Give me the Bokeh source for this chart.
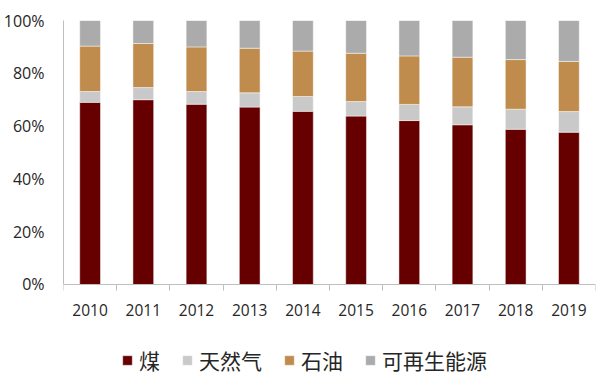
from bokeh.plotting import figure
from bokeh.models import ColumnDataSource, FixedTicker, PrintfTickFormatter, Legend, LegendItem
from bokeh.embed import file_html
from bokeh.resources import INLINE

years = ["2010", "2011", "2012", "2013", "2014", "2015", "2016", "2017", "2018", "2019"]
coal = [69.0, 70.0, 68.3, 67.2, 65.6, 63.8, 62.1, 60.5, 58.8, 57.7]
gas = [4.1, 4.6, 4.8, 5.4, 5.6, 5.5, 6.1, 6.8, 7.6, 7.8]
oil = [17.2, 16.7, 16.9, 16.9, 17.2, 18.3, 18.4, 18.8, 18.8, 19.0]
renew = [9.7, 8.7, 10.0, 10.5, 11.6, 12.4, 13.4, 13.9, 14.8, 15.5]
series = ["煤", "天然气", "石油", "可再生能源"]
colors = ["#660000", "#C9C9C9", "#BF8C4E", "#ABABAB"]

xs = [i + 1 for i in range(len(years))]
src = ColumnDataSource(dict(x=xs, coal=coal, gas=gas, oil=oil, renew=renew))

# lower part of the frame (below 0) holds the year labels and the legend
p = figure(width=602, height=376, output_backend="svg", toolbar_location=None,
           x_range=(0.5, len(years) + 0.5), y_range=(-34.85, 100),
           min_border_left=61, min_border_right=7, min_border_top=20, min_border_bottom=0)

rs = p.vbar_stack(["coal", "gas", "oil", "renew"], x="x", width=0.39, source=src,
                  color=colors, line_color="white", line_alpha=0.6, line_width=0.8)

p.xgrid.visible = False
p.ygrid.visible = False
p.outline_line_color = None

axis_col = "#BFBFBF"
font = "Open Sans"

xa = p.xaxis[0]
xa.fixed_location = 0
xa.ticker = FixedTicker(ticks=xs, minor_ticks=[i + 0.5 for i in range(len(years) + 1)])
xa.major_label_overrides = {x: y for x, y in zip(xs, years)}
xa.major_tick_out = 0
xa.major_tick_in = 0
xa.minor_tick_out = 6
xa.minor_tick_in = 0
xa.minor_tick_line_color = axis_col
xa.axis_line_color = axis_col
xa.major_label_standoff = 14
xa.major_label_text_font = font
xa.major_label_text_font_size = "15.5px"
xa.major_label_text_color = "#262626"

ya = p.yaxis[0]
ya.bounds = (0, 100)
ya.ticker = FixedTicker(ticks=[0, 20, 40, 60, 80, 100])
ya.formatter = PrintfTickFormatter(format="%d%%")
ya.major_tick_out = 0
ya.major_tick_in = 0
ya.minor_tick_out = 0
ya.minor_tick_in = 0
ya.axis_line_color = axis_col
ya.major_label_standoff = 19
ya.major_label_text_font = font
ya.major_label_text_font_size = "16px"
ya.major_label_text_color = "#262626"

legend = Legend(items=[LegendItem(label=s, renderers=[r]) for s, r in zip(series, rs)],
                orientation="horizontal", location=(58, 1),
                glyph_width=12, glyph_height=12, label_standoff=6, spacing=21,
                label_text_font="Noto Sans CJK SC", label_text_font_size="21px",
                label_text_color="#262626", border_line_color=None,
                background_fill_alpha=0, padding=0, margin=0)
p.add_layout(legend, "center")

open("out.html", "w").write(file_html(p, INLINE))
